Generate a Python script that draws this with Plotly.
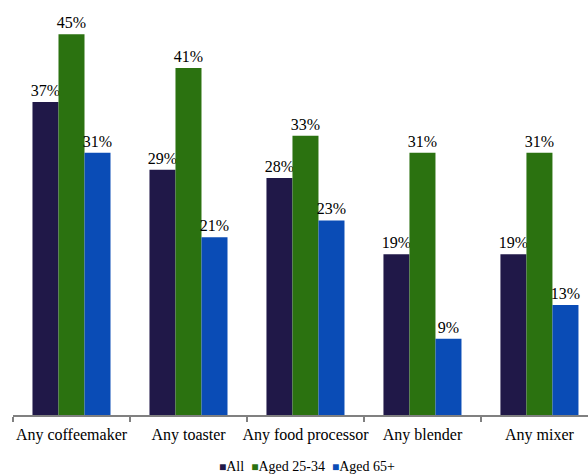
import plotly.graph_objects as go

categories = ["Any coffeemaker", "Any toaster", "Any food processor", "Any blender", "Any mixer"]
series_names = ["All", "Aged 25-34", "Aged 65+"]
all_vals = [37, 29, 28, 19, 19]
aged_25_34 = [45, 41, 33, 31, 31]
aged_65 = [31, 21, 23, 9, 13]
colors = ["#201848", "#2b7210", "#0a4cb6"]

FONT = "Times New Roman, Liberation Serif, serif"

fig = go.Figure()
for name, vals, col in zip(series_names, [all_vals, aged_25_34, aged_65], colors):
    fig.add_trace(go.Bar(
        x=categories, y=vals, name=name,
        marker=dict(color=col, line=dict(width=0)),
        text=[f"{v}%" for v in vals], textposition="outside",
        constraintext="none",
        textfont=dict(family=FONT, size=16, color="black"),
        cliponaxis=False,
    ))

legend_text = "&nbsp;&nbsp;".join(
    f"<span style='color:{c}; font-size:12px'>■</span>{n}" for n, c in zip(series_names, colors)
)
fig.add_annotation(text=legend_text, x=0.511, y=-0.125, xref="paper", yref="paper",
                   showarrow=False, xanchor="center", yanchor="middle",
                   font=dict(family=FONT, size=14, color="black"))

fig.update_layout(
    width=588, height=475,
    margin=dict(l=13, r=0, t=0, b=60, autoexpand=False),
    paper_bgcolor="white", plot_bgcolor="white",
    barmode="group", bargap=0.333, bargroupgap=0,
    showlegend=False,
    font=dict(family=FONT, size=16, color="black"),
    xaxis=dict(type="category", range=[-0.5, 4.415], tickson="boundaries",
               ticks="outside", ticklen=5, tickcolor="#808080", tickwidth=1.5,
               tickangle=0, automargin=False, ticklabelstandoff=4,
               showline=True, linecolor="#808080", linewidth=2,
               tickfont=dict(family=FONT, size=16, color="black"), showgrid=False),
    yaxis=dict(range=[0, 49.05], visible=False, showgrid=False, automargin=False),
)

fig.write_html("out.html")
